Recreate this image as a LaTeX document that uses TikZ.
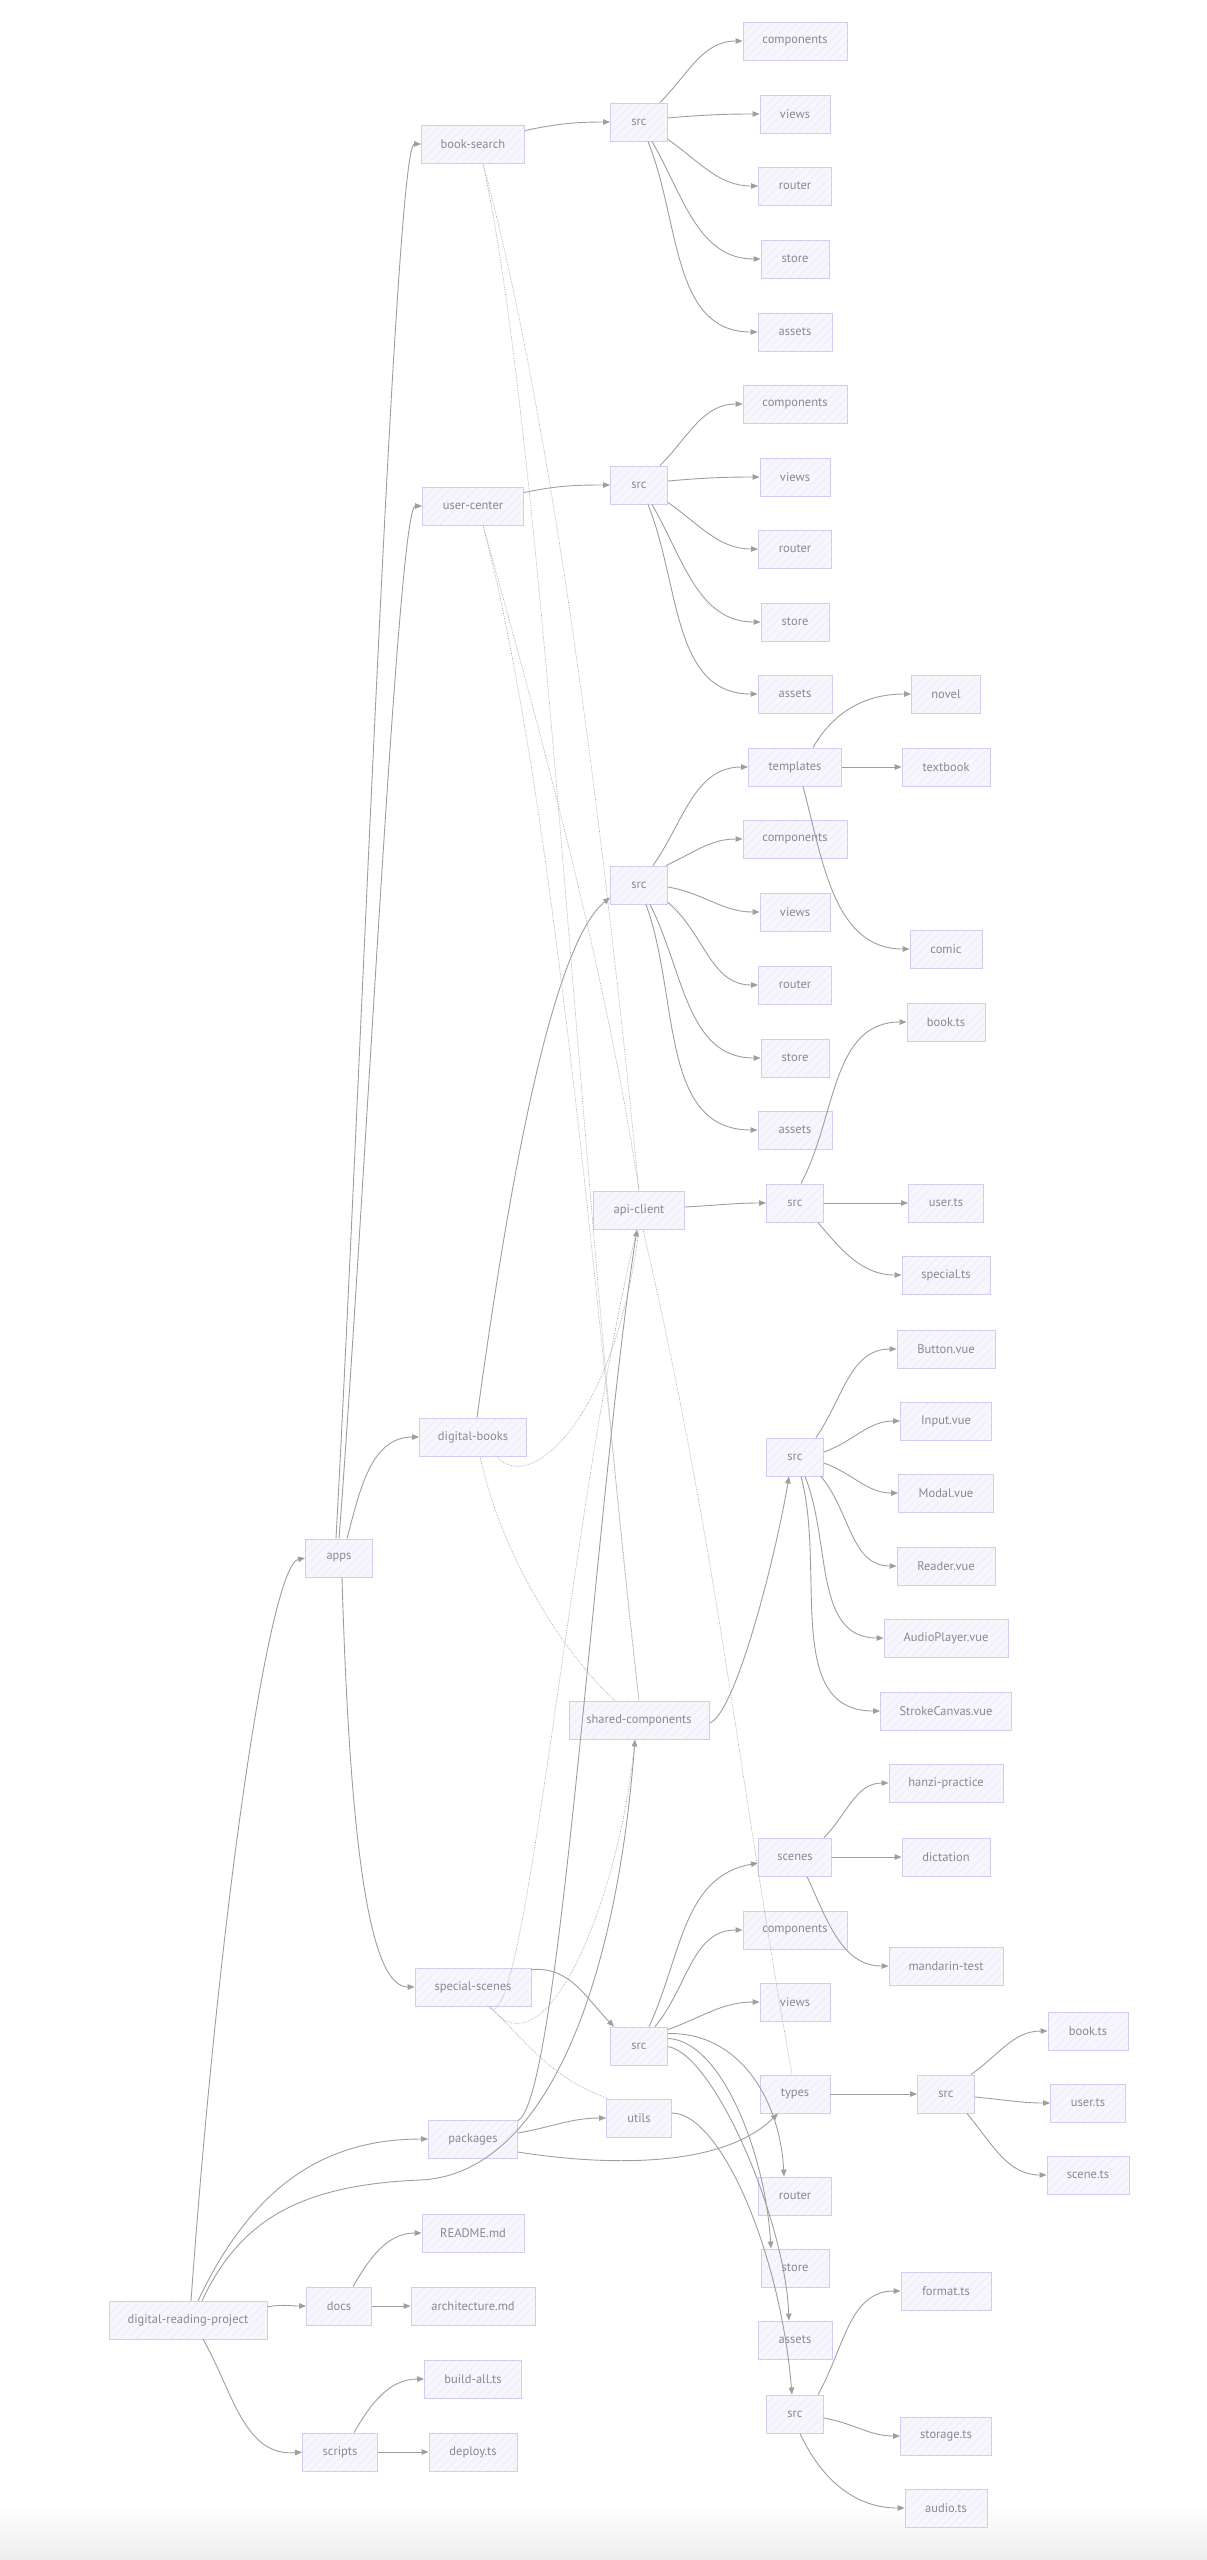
\documentclass[tikz,border=0pt]{standalone}
\usepackage{fontspec}
\setmainfont{PT Sans}
\usetikzlibrary{arrows.meta,patterns.meta}
\definecolor{txt}{HTML}{8A8A8A}
\definecolor{boxline}{HTML}{D3CCF2}
\definecolor{boxfill}{HTML}{F7F6FD}
\definecolor{hatch}{HTML}{E9E6F9}
\definecolor{edgec}{HTML}{9E9E9E}
\definecolor{depc}{HTML}{ABABAB}
\begin{document}
\begin{tikzpicture}[x=1pt,y=1pt,
  box/.style={draw=boxline, line width=0.9pt, preaction={fill=boxfill},
    pattern={Lines[angle=45,distance=6pt,line width=0.35pt]}, pattern color=hatch,
    minimum height=38pt, inner sep=0pt, text=txt,
    font=\fontsize{12.5}{14}\selectfont},
  conn/.style={draw=edgec, line width=0.9pt, -{Triangle[length=7pt,width=5.5pt]}},
  dep/.style={draw=depc, line width=0.7pt, densely dotted}]
\useasboundingbox (0,0) rectangle (1207,-2560);
\shade[top color=white, bottom color=black!7, draw=none] (0,-2505) rectangle (1207,-2560);

% column 0/1
\node[box, minimum width=158pt] (root) at (188,-2320) {digital-reading-project};
\node[box, minimum width=67pt] (apps) at (339,-1558) {apps};
\node[box, minimum width=65pt] (docs) at (339,-2306) {docs};
\node[box, minimum width=75pt] (scr) at (340,-2452) {scripts};
% column 2
\node[box, minimum width=103pt] (bs) at (473,-144) {book-search};
\node[box, minimum width=101pt] (uc) at (473,-506) {user-center};
\node[box, minimum width=107pt] (db) at (473,-1437) {digital-books};
\node[box, minimum width=116pt] (ss) at (473,-1987) {special-scenes};
\node[box, minimum width=89pt] (pkg) at (473,-2139) {packages};
\node[box, minimum width=102pt] (rd) at (473,-2233) {README.md};
\node[box, minimum width=124pt] (arch) at (473,-2306) {architecture.md};
\node[box, minimum width=97pt] (bld) at (473,-2379) {build-all.ts};
\node[box, minimum width=88pt] (dep) at (473,-2452) {deploy.ts};
% column 3
\node[box, minimum width=57pt] (srcA) at (639,-122) {src};
\node[box, minimum width=57pt] (srcB) at (639,-485) {src};
\node[box, minimum width=57pt] (srcC) at (639,-885) {src};
\node[box, minimum width=91pt] (api) at (639,-1210) {api-client};
\node[box, minimum width=140pt] (shc) at (639,-1720) {shared-components};
\node[box, minimum width=57pt] (srcF) at (639,-2046) {src};
\node[box, minimum width=65pt] (utl) at (639,-2118) {utils};
% column 4
\node[box, minimum width=104pt] (cA) at (795,-41) {components};
\node[box, minimum width=70pt] (vA) at (795,-114) {views};
\node[box, minimum width=73pt] (rA) at (795,-186) {router};
\node[box, minimum width=68pt] (sA) at (795,-259) {store};
\node[box, minimum width=74pt] (aA) at (795,-332) {assets};
\node[box, minimum width=104pt] (cB) at (795,-404) {components};
\node[box, minimum width=70pt] (vB) at (795,-477) {views};
\node[box, minimum width=73pt] (rB) at (795,-549) {router};
\node[box, minimum width=68pt] (sB) at (795,-622) {store};
\node[box, minimum width=74pt] (aB) at (795,-694) {assets};
\node[box, minimum width=93pt] (tpl) at (795,-767) {templates};
\node[box, minimum width=104pt] (cC) at (795,-839) {components};
\node[box, minimum width=70pt] (vC) at (795,-912) {views};
\node[box, minimum width=73pt] (rC) at (795,-985) {router};
\node[box, minimum width=68pt] (sC) at (795,-1058) {store};
\node[box, minimum width=74pt] (aC) at (795,-1130) {assets};
\node[box, minimum width=57pt] (srcD) at (795,-1203) {src};
\node[box, minimum width=57pt] (srcE) at (795,-1457) {src};
\node[box, minimum width=73pt] (scn) at (795,-1857) {scenes};
\node[box, minimum width=104pt] (cF) at (795,-1930) {components};
\node[box, minimum width=70pt] (vF) at (795,-2002) {views};
\node[box, minimum width=70pt] (typ) at (795,-2094) {types};
\node[box, minimum width=73pt] (rF) at (795,-2196) {router};
\node[box, minimum width=68pt] (sF) at (795,-2268) {store};
\node[box, minimum width=74pt] (aF) at (795,-2340) {assets};
\node[box, minimum width=57pt] (srcH) at (795,-2414) {src};
% column 5
\node[box, minimum width=69pt] (novel) at (946,-694) {novel};
\node[box, minimum width=88pt] (textbook) at (946,-767) {textbook};
\node[box, minimum width=72pt] (comic) at (946,-949) {comic};
\node[box, minimum width=78pt] (bkA) at (946,-1022) {book.ts};
\node[box, minimum width=75pt] (usA) at (946,-1203) {user.ts};
\node[box, minimum width=88pt] (spc) at (946,-1275) {special.ts};
\node[box, minimum width=98pt] (btn) at (946,-1349) {Button.vue};
\node[box, minimum width=91pt] (inp) at (946,-1421) {Input.vue};
\node[box, minimum width=95pt] (mdl) at (946,-1493) {Modal.vue};
\node[box, minimum width=98pt] (rdr) at (946,-1566) {Reader.vue};
\node[box, minimum width=124pt] (aud) at (946,-1638) {AudioPlayer.vue};
\node[box, minimum width=131pt] (stk) at (946,-1711) {StrokeCanvas.vue};
\node[box, minimum width=114pt] (hz) at (946,-1783) {hanzi-practice};
\node[box, minimum width=88pt] (dic) at (946,-1857) {dictation};
\node[box, minimum width=114pt] (mt) at (946,-1966) {mandarin-test};
\node[box, minimum width=57pt] (srcG) at (946,-2094) {src};
\node[box, minimum width=90pt] (fmt) at (946,-2291) {format.ts};
\node[box, minimum width=91pt] (sto) at (946,-2436) {storage.ts};
\node[box, minimum width=82pt] (audts) at (946,-2508) {audio.ts};
% column 6
\node[box, minimum width=80pt] (bkB) at (1088,-2031) {book.ts};
\node[box, minimum width=75pt] (usB) at (1088,-2103) {user.ts};
\node[box, minimum width=82pt] (sce) at (1088,-2175) {scene.ts};

% ---- root edges
\draw[conn] ([xshift=3pt]root.north) .. controls (220,-1900) and (270,-1565) .. (apps.west);
\draw[conn] ([xshift=10pt]root.north) .. controls (255,-2180) and (330,-2139) .. (pkg.west);
\draw[conn] ([xshift=14pt]root.north) .. controls (240,-2220) and (300,-2185) .. (420,-2180)
   .. controls (540,-2175) and (615,-2000) .. ([xshift=-4pt]shc.south);
\draw[conn] ([yshift=-6pt]root.north east) to[out=10,in=180] (docs.west);
\draw[conn] ([xshift=15pt]root.south) to[out=-60,in=185] (scr.west);
\draw[conn] ([xshift=14pt]docs.north) to[out=60,in=180] (rd.west);
\draw[conn] (docs.east) -- (arch.west);
\draw[conn] ([xshift=14pt]scr.north) to[out=60,in=180] (bld.west);
\draw[conn] (scr.east) -- (dep.west);

% ---- apps
\draw[conn] ([xshift=-3pt]apps.north) .. controls (360,-1100) and (395,-144) .. (bs.west);
\draw[conn] (apps.north) .. controls (365,-1200) and (398,-506) .. (uc.west);
\draw[conn] ([xshift=8pt]apps.north) to[out=75,in=180] (db.west);
\draw[conn] ([xshift=3pt]apps.south) .. controls (350,-1850) and (370,-1987) .. (ss.west);

% ---- app -> src
\draw[conn] ([yshift=-6pt]bs.north east) to[out=12,in=180] (srcA.west);
\draw[conn] ([yshift=-6pt]uc.north east) to[out=12,in=180] (srcB.west);
\draw[conn] ([xshift=4pt]db.north) .. controls (500,-1250) and (545,-950) .. ([yshift=7pt]srcC.south west);
\draw[conn] ([yshift=-2pt]ss.north east) to[out=5,in=135] ([xshift=4pt]srcF.north west);

% ---- src A
\draw[conn] ([xshift=-8pt]srcA.north east) to[out=45,in=180] (cA.west);
\draw[conn] ([yshift=4pt]srcA.east) to[out=5,in=180] (vA.west);
\draw[conn] ([yshift=2pt]srcA.south east) to[out=-35,in=180] (rA.west);
\draw[conn] ([xshift=13pt]srcA.south) to[out=-60,in=180] (sA.west);
\draw[conn] ([xshift=9pt]srcA.south) to[out=-68,in=180] (aA.west);
% ---- src B
\draw[conn] ([xshift=-8pt]srcB.north east) to[out=45,in=180] (cB.west);
\draw[conn] ([yshift=4pt]srcB.east) to[out=5,in=180] (vB.west);
\draw[conn] ([yshift=2pt]srcB.south east) to[out=-35,in=180] (rB.west);
\draw[conn] ([xshift=13pt]srcB.south) to[out=-60,in=180] (sB.west);
\draw[conn] ([xshift=9pt]srcB.south) to[out=-68,in=180] (aB.west);
% ---- src C
\draw[conn] ([xshift=14pt]srcC.north) to[out=55,in=180] (tpl.west);
\draw[conn] ([xshift=-2pt]srcC.north east) to[out=25,in=180] (cC.west);
\draw[conn] ([yshift=-2pt]srcC.east) to[out=-10,in=180] (vC.west);
\draw[conn] ([yshift=2pt]srcC.south east) to[out=-40,in=180] (rC.west);
\draw[conn] ([xshift=11pt]srcC.south) to[out=-63,in=180] (sC.west);
\draw[conn] ([xshift=7pt]srcC.south) to[out=-70,in=180] (aC.west);
% ---- templates
\draw[conn] ([xshift=18pt]tpl.north) to[out=60,in=180] (novel.west);
\draw[conn] (tpl.east) -- (textbook.west);
\draw[conn] ([xshift=8pt]tpl.south) to[out=-75,in=180] (comic.west);
% ---- api-client
\draw[conn] ([yshift=3pt]api.east) to[out=3,in=180] (srcD.west);
\draw[conn] ([xshift=6pt]srcD.north) to[out=62,in=180] (bkA.west);
\draw[conn] (srcD.east) -- (usA.west);
\draw[conn] ([xshift=-6pt]srcD.south east) to[out=-50,in=180] (spc.west);
% ---- shared-components
\draw[conn] ([yshift=-3pt]shc.east) .. controls (735,-1715) and (775,-1560) .. ([xshift=-6pt]srcE.south);
\draw[conn] ([xshift=-8pt]srcE.north east) to[out=55,in=180] (btn.west);
\draw[conn] ([yshift=5pt]srcE.east) to[out=20,in=180] (inp.west);
\draw[conn] ([yshift=-6pt]srcE.east) to[out=-20,in=180] (mdl.west);
\draw[conn] ([xshift=-3pt]srcE.south east) to[out=-50,in=180] (rdr.west);
\draw[conn] ([xshift=10pt]srcE.south) to[out=-68,in=180] (aud.west);
\draw[conn] ([xshift=6pt]srcE.south) to[out=-75,in=180] (stk.west);
% ---- special-scenes src
\draw[conn] ([xshift=10pt]srcF.north) to[out=65,in=190] ([yshift=-6pt]scn.west);
\draw[conn] ([xshift=16pt]srcF.north) to[out=50,in=180] (cF.west);
\draw[conn] ([yshift=-3pt]srcF.north east) to[out=20,in=180] (vF.west);
\draw[conn] ([yshift=-7pt]srcF.north east) .. controls (740,-2032) and (780,-2100) .. ([xshift=-11pt]rF.north);
\draw[conn] ([yshift=-12pt]srcF.north east) .. controls (720,-2040) and (765,-2150) .. ([xshift=-24pt]sF.north);
\draw[conn] ([yshift=-20pt]srcF.north east) .. controls (715,-2055) and (785,-2220) .. ([xshift=-6pt]aF.north);
\draw[conn] ([xshift=-8pt]scn.north east) to[out=45,in=180] (hz.west);
\draw[conn] (scn.east) -- (dic.west);
\draw[conn] ([xshift=12pt]scn.south) to[out=-65,in=180] (mt.west);
% ---- packages
\draw[conn] ([yshift=6pt]pkg.east) to[out=10,in=180] (utl.west);
\draw[conn] ([yshift=-13pt]pkg.east) .. controls (600,-2165) and (720,-2170) .. ([xshift=-17pt]typ.south);
\draw[conn] ([yshift=-1pt]pkg.north east) .. controls (560,-2100) and (595,-1500) .. ([xshift=-2pt]api.south);
\draw[conn] ([yshift=5pt]utl.east) .. controls (720,-2113) and (780,-2250) .. ([xshift=-3pt]srcH.north);
\draw[conn] ([xshift=-6pt]srcH.north east) to[out=60,in=180] (fmt.west);
\draw[conn] ([yshift=-4pt]srcH.east) to[out=-10,in=180] (sto.west);
\draw[conn] ([xshift=5pt]srcH.south) to[out=-65,in=180] (audts.west);
\draw[conn] (typ.east) -- (srcG.west);
\draw[conn] ([xshift=-4pt]srcG.north east) to[out=35,in=180] (bkB.west);
\draw[conn] ([yshift=-3pt]srcG.east) to[out=-5,in=180] (usB.west);
\draw[conn] ([xshift=-8pt]srcG.south east) to[out=-50,in=180] (sce.west);

% ---- dependency links
\draw[dep] ([xshift=10pt]bs.south) .. controls (560,-450) and (610,-900) .. (api.north);
\draw[dep] ([xshift=10pt]bs.south) .. controls (545,-450) and (580,-1200) .. (shc.north);
\draw[dep] ([xshift=10pt]uc.south) .. controls (560,-800) and (610,-1000) .. (api.north);
\draw[dep] ([xshift=10pt]uc.south) .. controls (555,-800) and (595,-1300) .. (shc.north);
\draw[dep] ([xshift=24pt]db.south) .. controls (530,-1495) and (615,-1420) .. (api.south);
\draw[dep] ([xshift=7pt]db.south) .. controls (505,-1570) and (575,-1665) .. ([xshift=-24pt]shc.north);
\draw[dep] ([xshift=15pt]ss.south) .. controls (525,-2055) and (570,-1500) .. ([xshift=-2pt]api.south);
\draw[dep] ([xshift=17pt]ss.south) .. controls (545,-2080) and (620,-1900) .. ([xshift=-4pt]shc.south);
\draw[dep] ([xshift=17pt]ss.south) to[out=-45,in=160] ([xshift=2pt]utl.north west);
\draw[dep] ([xshift=4pt]api.south) to[out=-77,in=100] ([xshift=-3pt]typ.north);
\end{tikzpicture}
\end{document}
